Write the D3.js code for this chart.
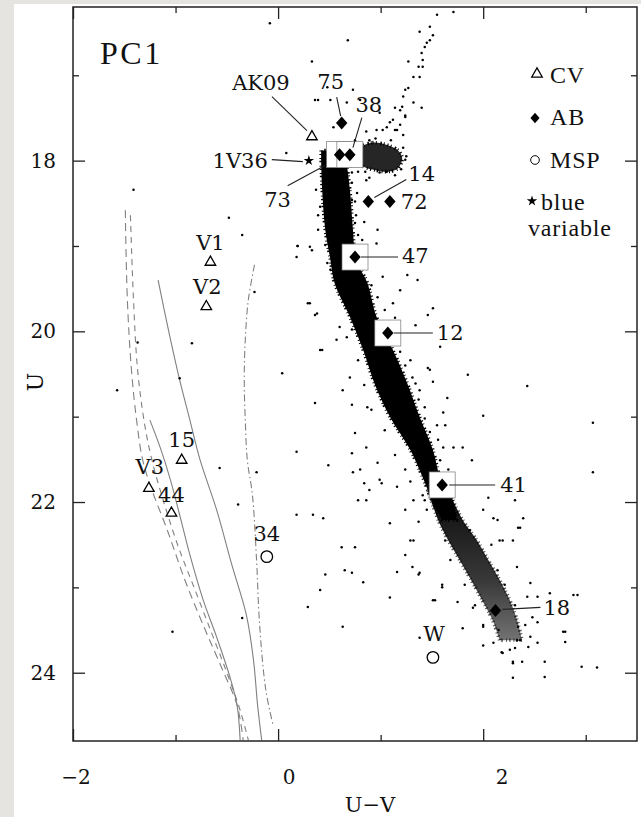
<!DOCTYPE html>
<html>
<head>
<meta charset="utf-8">
<script src="https://cdn.jsdelivr.net/npm/d3@7"></script>
<style>
  html, body { margin: 0; padding: 0; background: #e6e4e0; }
  svg { display: block; }
</style>
</head>
<body>
<svg id="chart" width="641" height="817"></svg>
<script>
// ---------------------------------------------------------------
// Colour–magnitude diagram, field PC1: U vs U−V
// ---------------------------------------------------------------

// Axis ticks
const xMajorTicks = [-2, 0, 2];
const xMinorTicks = [-1, 1, 3];
const yMajorTicks = [18, 20, 22, 24];
const yMinorTicks = [17, 19, 21, 23];

// Dense main-sequence ridge: U and the blue / red edges in U−V
const msU    = [17.88, 18.00, 18.34, 18.81, 19.16, 19.43, 19.83, 20.22, 20.61, 21.00, 21.39, 21.71, 21.98, 22.21];
const msBlue = [0.42, 0.42, 0.43, 0.46, 0.51, 0.55, 0.70, 0.83, 0.94, 1.09, 1.29, 1.41, 1.50, 1.60];
const msRed  = [0.62, 0.66, 0.70, 0.73, 0.76, 0.87, 0.96, 1.12, 1.26, 1.38, 1.51, 1.58, 1.70, 1.74];

// Fainter lower main sequence (less crowded)
const lowU    = [21.86, 22.21, 22.45, 22.68, 22.91, 23.15, 23.38, 23.62];
const lowBlue = [1.46, 1.56, 1.66, 1.77, 1.88, 1.99, 2.09, 2.16];
const lowRed  = [1.66, 1.80, 1.94, 2.05, 2.16, 2.26, 2.33, 2.38];

// Crowded subgiant clump outline [U−V, U]
const subgiantClump = [[0.80,17.85],[0.92,17.79],[1.07,17.82],[1.17,17.88],[1.21,17.97],[1.17,18.09],[1.07,18.13],[0.94,18.11],[0.82,18.06],[0.78,17.97]];

// Individual stars [U−V, U]
const giantStars = [
  [1.55,16.29],[1.71,16.26],[0.68,16.59],[1.38,16.49],[1.48,16.43],[1.51,16.53],[1.45,16.62],[1.40,16.74],
  [1.27,16.84],[1.41,16.90],[1.37,16.90],[1.32,17.02],[1.38,17.02],[1.24,17.17],[1.27,17.15],[1.22,17.25],
  [1.32,17.32],[1.14,17.38],[1.21,17.37],[1.40,17.38],[1.24,17.47],[1.12,17.52],[1.19,17.58],[1.14,17.64],
  [1.22,17.70],[1.02,17.64],[0.99,17.44],[1.06,17.61],[0.86,17.66],[0.80,17.29],[0.73,17.17],[0.48,17.14],
  [0.51,17.29],[1.48,16.59],[1.43,16.67],[1.41,16.82],[0.39,17.29],[0.67,17.32],[0.89,17.76],[0.96,17.64],
  [1.09,17.55],[1.19,17.41],[1.24,17.49],[1.16,17.64],[1.22,17.85],[0.54,17.61],[0.78,17.80],[1.25,17.95],
  [1.20,18.10],[0.85,18.13],[1.10,17.76],[0.95,17.74],[0.75,17.76],[1.24,17.99],[1.14,18.17],[0.89,18.20],
  [0.78,18.13]
];
const turnoffStars = [
  [0.86,18.23],[0.99,18.14],[1.06,18.13],[0.72,18.26],[0.77,18.38],[0.70,18.58],[0.75,18.73],[0.97,18.81],
  [0.82,18.93],[0.96,18.97],[0.84,18.72],[0.75,18.48],[0.72,18.14],[0.41,18.54],[0.39,18.81],[0.31,19.01],
  [0.18,19.13],[0.33,19.05],[0.48,19.20],[0.19,19.00],[0.72,18.46],[0.76,18.64],[0.78,18.87],[0.82,19.11],
  [0.46,18.99],[0.39,18.64],[0.37,18.34]
];
const bandStars = [
  [1.36,19.40],[1.26,19.34],[1.02,19.36],[0.31,19.67],[0.36,19.81],[0.43,20.22],[0.70,20.54],[0.36,20.84],
  [0.72,20.86],[0.87,20.89],[1.51,19.73],[1.46,19.81],[1.34,19.93],[1.58,20.18],[1.46,20.43],[1.85,20.51],
  [1.51,20.59],[1.61,20.95],[1.55,21.10],[0.75,21.19],[0.86,21.36],[0.72,21.43],[0.49,21.57],[0.80,21.62],
  [0.97,21.54],[0.99,21.74],[0.89,21.86],[1.16,21.82],[1.61,21.36],[1.71,21.36],[1.80,21.36],[1.89,21.51],
  [0.63,20.69],[0.60,19.95],[0.67,20.07],[1.19,19.52],[1.12,19.67],[1.29,20.34],[1.34,20.61],[1.43,20.89],
  [0.57,20.10],[0.41,20.22],[2.43,20.64],[2.00,20.99],[0.78,21.98],[0.86,21.98],[0.44,22.19],[0.62,22.53],
  [0.75,22.53],[1.09,22.25],[1.29,22.45],[1.01,21.78],[0.84,21.78],[0.73,21.65],[1.48,20.45],[1.65,20.78],
  [1.63,21.10],[2.31,21.98],[2.36,22.30],[2.10,22.19],[2.00,22.09],[2.19,22.45],
  [0.84,19.26],[0.91,19.46],[0.80,19.52],[0.97,19.60],[1.04,19.75],[0.99,19.89],[1.14,19.84],[1.19,20.24],
  [1.24,20.40],[1.14,20.48],[1.31,20.54],[1.38,20.69],[1.37,20.80],[1.43,21.02],[1.48,21.18],[1.40,21.27],
  [1.56,21.27],[1.58,21.51],[1.66,21.62],[1.53,21.65],[0.65,19.63],[0.60,19.52],[0.72,19.98],[0.78,20.34],
  [0.84,20.63],[0.91,20.92],[1.04,21.16],[1.14,21.45],[1.24,21.62],[1.29,21.76],[0.51,19.28]
];
const lowerStars = [
  [2.39,22.19],[2.34,22.30],[2.05,21.95],[2.14,22.21],[2.16,22.45],[2.29,22.45],[2.33,22.76],[2.46,22.95],
  [2.43,23.11],[2.53,23.11],[2.88,23.09],[2.48,23.35],[2.53,23.41],[2.78,23.52],[2.80,23.64],[2.53,23.65],
  [2.44,23.70],[2.33,23.62],[2.26,23.73],[2.19,23.77],[2.29,23.87],[2.38,23.87],[2.60,23.87],[2.15,23.50],
  [2.00,23.44],[1.80,23.48],[1.51,23.15],[1.32,22.45],[1.38,22.83],[1.37,22.23],[1.24,22.62],[1.60,22.97],
  [1.32,21.98],[1.24,22.09],[1.41,21.92],[1.45,22.09],[0.46,22.85],[0.65,22.80],[0.72,22.83],[0.83,22.94],
  [1.16,22.82],[1.31,22.76],[1.37,22.85],[1.53,23.15],[1.60,23.00],[1.75,23.17],[1.09,23.12],[0.63,23.46],
  [1.38,23.59],[1.90,23.24],[2.00,23.46],[2.10,23.65],[2.18,23.76],[2.29,23.89],[2.29,24.06],[2.60,24.05],
  [2.65,23.07],[2.92,23.09],[2.80,23.52],[2.96,23.93],[3.11,23.94],[2.36,23.62],[2.46,23.58],[2.31,23.71],
  [2.34,23.46],[1.43,21.98],[1.73,22.15],[1.87,22.33],[1.63,22.45],[1.68,22.68],[2.08,22.50],[2.14,22.80],
  [2.21,22.97],[1.82,22.97],[1.92,23.21],[2.31,23.21],[2.00,23.68],[2.41,23.44]
];
const fieldStars = [
  [-0.08,16.39],[0.33,16.84],[0.36,17.29],[0.08,17.91],[-1.41,18.34],[-0.48,18.67],[-0.35,18.87],[0.19,19.00],
  [-1.37,20.13],[-1.57,20.69],[-0.84,20.14],[-0.96,20.55],[-0.57,21.60],[-0.39,22.03],[-0.21,21.65],[-0.23,19.54],
  [0.04,20.49],[0.18,21.41],[0.18,22.15],[0.34,22.15],[0.29,19.67],[0.38,19.79],[-1.03,23.52],[-0.35,23.36],
  [0.29,23.23],[0.41,23.03],[3.07,21.07],[3.07,21.65]
];

// Model sequences drawn on the blue side [U−V, U]
const seqDashedA = [[-1.49,18.58],[-1.47,19.63],[-1.43,20.45],[-1.38,21.04],[-1.32,21.51],[-1.23,21.86],[-1.08,22.33],[-0.91,22.91],[-0.71,23.50],[-0.54,23.97],[-0.40,24.38],[-0.34,24.79]];
const seqDashedB = [[-1.44,18.64],[-1.41,19.63],[-1.37,20.45],[-1.30,21.10],[-1.23,21.51],[-1.12,21.98],[-0.98,22.50],[-0.81,23.03],[-0.64,23.56],[-0.49,24.03],[-0.37,24.44],[-0.29,24.79]];
const seqSolidA  = [[-1.17,19.40],[-1.07,19.98],[-0.96,20.57],[-0.86,21.04],[-0.76,21.51],[-0.60,22.09],[-0.45,22.74],[-0.31,23.32],[-0.24,23.85],[-0.20,24.38],[-0.16,24.79]];
const seqSolidB  = [[-1.25,21.04],[-1.15,21.36],[-1.05,21.74],[-0.96,22.15],[-0.86,22.62],[-0.73,23.15],[-0.60,23.58],[-0.47,24.05],[-0.40,24.38],[-0.37,24.79]];
const seqDashDot = [[-0.23,19.22],[-0.29,19.63],[-0.32,20.10],[-0.33,20.57],[-0.32,21.04],[-0.30,21.51],[-0.25,21.92],[-0.21,22.68],[-0.18,23.44],[-0.12,24.20],[-0.05,24.61]];

// Identified objects
const abNames  = ["75", "73", "38", "14", "72", "47", "12", "41", "18"];
const abUV     = [0.62, 0.60, 0.70, 0.88, 1.09, 0.75, 1.07, 1.60, 2.12];
const abU      = [17.56, 17.93, 17.93, 18.48, 18.48, 19.13, 20.02, 21.80, 23.27];
const cvNames  = ["AK09", "V1", "V2", "15", "V3", "44"];
const cvUV     = [0.33, -0.66, -0.70, -0.94, -1.26, -1.04];
const cvU      = [17.72, 19.19, 19.71, 21.51, 21.84, 22.13];
const mspNames = ["34", "W"];
const mspUV    = [-0.11, 1.51];
const mspU     = [22.64, 23.82];
const bvNames  = ["1V36"];
const bvUV     = [0.30];
const bvU      = [18.00];

// Legend entries
const legendKeys   = ["cv", "ab", "msp", "bv"];
const legendLabels = ["CV", "AB", "MSP", "blue\nvariable"];

// ---------------------------------------------------------------
// Layout
// ---------------------------------------------------------------
const W = 641, H = 817;
const plot = { left: 73, right: 637, top: 7, bottom: 741 };

const x = d3.scaleLinear().domain([-2, 3.5]).range([plot.left, plot.right]);
const y = d3.scaleLinear().domain([16.2, 24.8]).range([plot.top, plot.bottom]);
// tick numerals along the bottom sit on a slightly wider spacing than the ticks
const xNumeral = d3.scaleLinear().domain([-2, 2]).range([76, 502]);

// label placement relative to each marker (pixels) and leader segments
const labelLayout = {
  "75":   { dx: -11, dy: -41, anchor: "middle", leader: [-5, -26, -1, -7] },
  "73":   { dx: -62, dy: 45,  anchor: "middle", leader: [-52, 31, -15, 11], box: true },
  "38":   { dx: 19,  dy: -50, anchor: "middle", leader: [12, -37, 3, -7], box: true },
  "14":   { dx: 40,  dy: -28, anchor: "start",  leader: [6, -4, 38, -22] },
  "72":   { dx: 11,  dy: 0,   anchor: "start" },
  "47":   { dx: 47,  dy: -1,  anchor: "start",  leader: [6, 0, 43, 0], box: true },
  "12":   { dx: 49,  dy: 0,   anchor: "start",  leader: [6, 0, 45, 0], box: true },
  "41":   { dx: 58,  dy: 0,   anchor: "start",  leader: [7, 0, 53, 0], box: true },
  "18":   { dx: 48,  dy: -2,  anchor: "start",  leader: [7, -1, 45, -3] },
  "AK09": { dx: -51, dy: -54, anchor: "middle", leader: [-40, -40, -5, -6] },
  "1V36": { dx: -41, dy: 0,   anchor: "end",    leader: [-37, -1, -6, 1] },
  "V1":   { dx: 0,   dy: -19, anchor: "middle" },
  "V2":   { dx: 1,   dy: -20, anchor: "middle" },
  "15":   { dx: 0,   dy: -20, anchor: "middle" },
  "V3":   { dx: 1,   dy: -21, anchor: "middle" },
  "44":   { dx: 0,   dy: -18, anchor: "middle" },
  "34":   { dx: 0,   dy: -23, anchor: "middle" },
  "W":    { dx: 1,   dy: -23, anchor: "middle" }
};

const numFont = "'DejaVu Serif', serif";
const romanFont = "'Liberation Serif', 'Times New Roman', serif";
// irregular stipple used to roughen the edges of the crowded regions
const stipple = "1.2,2.3,0.9,3.4,1.5,1.8,1,2.9";

const svg = d3.select("#chart");
const defs = svg.append("defs");

// paper
svg.append("rect").attr("x", 14).attr("y", 4).attr("width", W - 14).attr("height", H - 4).attr("fill", "#ffffff");

defs.append("clipPath").attr("id", "plotClip")
  .append("rect").attr("x", plot.left).attr("y", plot.top)
  .attr("width", plot.right - plot.left).attr("height", plot.bottom - plot.top);

// lower sequence thins out towards faint magnitudes
const fade = defs.append("linearGradient").attr("id", "lowFade")
  .attr("gradientUnits", "userSpaceOnUse")
  .attr("x1", 0).attr("x2", 0).attr("y1", y(lowU[0])).attr("y2", y(lowU[lowU.length - 1]));
fade.append("stop").attr("offset", 0).attr("stop-color", "#000").attr("stop-opacity", 0.96);
fade.append("stop").attr("offset", 0.6).attr("stop-color", "#000").attr("stop-opacity", 0.78);
fade.append("stop").attr("offset", 1).attr("stop-color", "#000").attr("stop-opacity", 0.55);

const gPlot = svg.append("g").attr("clip-path", "url(#plotClip)");

// model sequences
const seqLine = d3.line().x(d => x(d[0])).y(d => y(d[1])).curve(d3.curveCatmullRom);
const seqStyles = [
  { data: seqDashedA, dash: "8,5" },
  { data: seqDashedB, dash: "6,5" },
  { data: seqSolidA,  dash: null },
  { data: seqSolidB,  dash: null },
  { data: seqDashDot, dash: "7,3,1.5,3" }
];
seqStyles.forEach(s => {
  gPlot.append("path").attr("d", seqLine(s.data))
    .attr("fill", "none").attr("stroke", "#808080").attr("stroke-width", 1.1)
    .attr("stroke-dasharray", s.dash);
});

// main sequence bands
const band = d3.area().y(d => y(d.u)).x0(d => x(d.b)).x1(d => x(d.r)).curve(d3.curveCatmullRom);
const msRows = msU.map((u, i) => ({ u, b: msBlue[i], r: msRed[i] }));
const lowRows = lowU.map((u, i) => ({ u, b: lowBlue[i], r: lowRed[i] }));
gPlot.append("path").attr("d", band(lowRows)).attr("fill", "url(#lowFade)")
  .attr("stroke", "#000").attr("stroke-opacity", 0.65).attr("stroke-width", 3.5)
  .attr("stroke-dasharray", stipple);
gPlot.append("path").attr("d", band(msRows)).attr("fill", "#000")
  .attr("stroke", "#000").attr("stroke-width", 3.5).attr("stroke-dasharray", stipple);

// subgiant clump
gPlot.append("path")
  .attr("d", d3.line().x(d => x(d[0])).y(d => y(d[1])).curve(d3.curveCatmullRomClosed)(subgiantClump))
  .attr("fill", "#000").attr("fill-opacity", 0.85)
  .attr("stroke", "#000").attr("stroke-width", 3.5).attr("stroke-dasharray", stipple);

// individual stars
const allStars = [].concat(giantStars, turnoffStars, bandStars, lowerStars, fieldStars);
gPlot.append("g").selectAll("circle").data(allStars).join("circle")
  .attr("cx", d => x(d[0])).attr("cy", d => y(d[1])).attr("r", 1.25).attr("fill", "#000");

// objects
const objects = [];
abNames.forEach((n, i) => objects.push({ name: n, kind: "ab", uv: abUV[i], u: abU[i] }));
cvNames.forEach((n, i) => objects.push({ name: n, kind: "cv", uv: cvUV[i], u: cvU[i] }));
mspNames.forEach((n, i) => objects.push({ name: n, kind: "msp", uv: mspUV[i], u: mspU[i] }));
bvNames.forEach((n, i) => objects.push({ name: n, kind: "bv", uv: bvUV[i], u: bvU[i] }));

// clearing boxes around objects sitting inside the crowded sequence
objects.filter(o => labelLayout[o.name].box).forEach(o => {
  gPlot.append("rect")
    .attr("x", x(o.uv) - 13).attr("y", y(o.u) - 13).attr("width", 26).attr("height", 26)
    .attr("fill", "#fff").attr("stroke", "#777").attr("stroke-width", 0.7);
});

const diamondType = {
  draw(ctx, size) {
    const s = Math.sqrt(size) / 2;
    ctx.moveTo(0, -s * 1.12); ctx.lineTo(s * 0.98, 0); ctx.lineTo(0, s * 1.12); ctx.lineTo(-s * 0.98, 0); ctx.closePath();
  }
};
const markerPath = {
  ab:  d3.symbol().type(diamondType).size(135),
  cv:  d3.symbol().type(d3.symbolTriangle).size(48),
  msp: d3.symbol().type(d3.symbolCircle).size(105),
  bv:  d3.symbol().type(d3.symbolStar).size(34)
};
function drawMarker(g, kind, px, py, scale) {
  const p = g.append("path").attr("transform", `translate(${px},${py}) scale(${scale || 1})`)
    .attr("d", markerPath[kind]());
  if (kind === "ab" || kind === "bv") p.attr("fill", "#000");
  else p.attr("fill", "#fff").attr("stroke", "#000").attr("stroke-width", 1.3);
  return p;
}

const gAnn = svg.append("g");
objects.forEach(o => {
  const px = x(o.uv), py = y(o.u);
  const L = labelLayout[o.name];
  if (L.leader) {
    gAnn.append("line")
      .attr("x1", px + L.leader[0]).attr("y1", py + L.leader[1])
      .attr("x2", px + L.leader[2]).attr("y2", py + L.leader[3])
      .attr("stroke", "#222").attr("stroke-width", 1.1);
  }
});
objects.forEach(o => drawMarker(gAnn, o.kind, x(o.uv), y(o.u)));
objects.forEach(o => {
  const L = labelLayout[o.name];
  gAnn.append("text")
    .attr("x", x(o.uv) + L.dx).attr("y", y(o.u) + L.dy)
    .attr("text-anchor", L.anchor).attr("dominant-baseline", "central")
    .attr("font-family", numFont).attr("font-size", 21).attr("fill", "#111")
    .text(o.name);
});

// legend
const legendPos = [[537, 74, 75], [535, 118, 117], [535, 160, 160], [532, 201, 202]];
const gLeg = svg.append("g");
legendKeys.forEach((k, i) => {
  const [mx, my, ty] = legendPos[i];
  drawMarker(gLeg, k, mx, my, k === "msp" ? 0.75 : (k === "ab" ? 0.8 : 1));
  const lines = legendLabels[i].split("\n");
  lines.forEach((t, j) => {
    gLeg.append("text")
      .attr("x", j === 0 ? (k === "bv" ? 541 : 550) : 528)
      .attr("y", ty + j * 26)
      .attr("dominant-baseline", "central")
      .attr("font-family", romanFont).attr("font-size", 24)
      .attr("letter-spacing", 0.8).attr("fill", "#111")
      .text(t);
  });
});

// panel name
svg.append("text").attr("x", 100).attr("y", 64)
  .attr("font-family", romanFont).attr("font-size", 32).attr("letter-spacing", 2.5)
  .attr("fill", "#111").text("PC1");

// axes: ticks pointing inward on all four sides
function tickAxis(axis, values, size, transform) {
  svg.append("g").attr("transform", transform)
    .call(axis.tickValues(values).tickSize(size).tickFormat(""))
    .call(g => g.select(".domain").remove())
    .call(g => g.selectAll("line").attr("stroke", "#222").attr("stroke-width", 1.3));
}
tickAxis(d3.axisBottom(x), xMajorTicks, -12, `translate(0,${plot.bottom})`);
tickAxis(d3.axisBottom(x), xMinorTicks, -6, `translate(0,${plot.bottom})`);
tickAxis(d3.axisTop(x), xMajorTicks, -12, `translate(0,${plot.top})`);
tickAxis(d3.axisTop(x), xMinorTicks, -6, `translate(0,${plot.top})`);
tickAxis(d3.axisLeft(y), yMajorTicks, -12, `translate(${plot.left},0)`);
tickAxis(d3.axisLeft(y), yMinorTicks, -6, `translate(${plot.left},0)`);
tickAxis(d3.axisRight(y), yMajorTicks, -12, `translate(${plot.right},0)`);
tickAxis(d3.axisRight(y), yMinorTicks, -6, `translate(${plot.right},0)`);

svg.append("rect")
  .attr("x", plot.left).attr("y", plot.top)
  .attr("width", plot.right - plot.left).attr("height", plot.bottom - plot.top)
  .attr("fill", "none").attr("stroke", "#222").attr("stroke-width", 1.5);

// tick numerals
const fmt = d3.format("d");
svg.append("g").selectAll("text").data(yMajorTicks).join("text")
  .attr("x", 56).attr("y", d => y(d)).attr("text-anchor", "end").attr("dominant-baseline", "central")
  .attr("font-family", numFont).attr("font-size", 20).attr("fill", "#111")
  .text(d => fmt(d));
svg.append("g").selectAll("text").data(xMajorTicks).join("text")
  .attr("x", d => xNumeral(d)).attr("y", 777).attr("text-anchor", "middle").attr("dominant-baseline", "central")
  .attr("font-family", numFont).attr("font-size", 20).attr("fill", "#111")
  .text(d => fmt(d));

// axis titles
svg.append("text").attr("transform", "translate(35,382) rotate(-90)")
  .attr("text-anchor", "middle").attr("dominant-baseline", "central")
  .attr("font-family", numFont).attr("font-size", 22).attr("fill", "#111").text("U");
svg.append("text").attr("x", 370).attr("y", 812).attr("text-anchor", "middle")
  .attr("font-family", numFont).attr("font-size", 21).attr("fill", "#111").text("U\u2212V");
</script>
</body>
</html>
